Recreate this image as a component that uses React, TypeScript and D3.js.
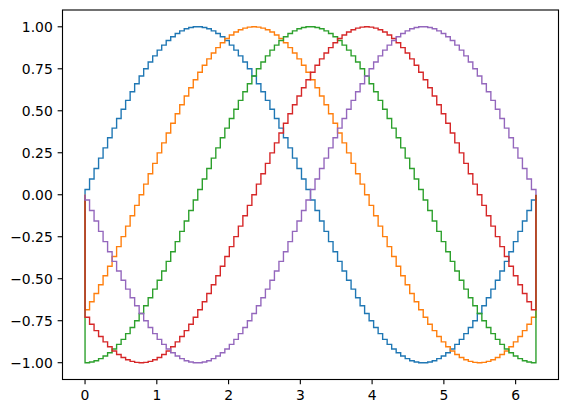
import * as d3 from "d3";
import React from "react";

// one value per step, 100 steps over [0, 2π]
const blue = [
  0.031, 0.094, 0.156, 0.218, 0.279, 0.339, 0.397, 0.454, 0.509, 0.562, 0.613, 0.661, 0.707, 0.75, 0.79, 0.827, 0.861, 0.891, 0.918, 0.941, 0.96, 0.976, 0.988, 0.996, 1,
  1, 0.996, 0.988, 0.976, 0.96, 0.941, 0.918, 0.891, 0.861, 0.827, 0.79, 0.75, 0.707, 0.661, 0.613, 0.562, 0.509, 0.454, 0.397, 0.339, 0.279, 0.218, 0.156, 0.094, 0.031,
  -0.031, -0.094, -0.156, -0.218, -0.279, -0.339, -0.397, -0.454, -0.509, -0.562, -0.613, -0.661, -0.707, -0.75, -0.79, -0.827, -0.861, -0.891, -0.918, -0.941, -0.96, -0.976, -0.988, -0.996, -1,
  -1, -0.996, -0.988, -0.976, -0.96, -0.941, -0.918, -0.891, -0.861, -0.827, -0.79, -0.75, -0.707, -0.661, -0.613, -0.562, -0.509, -0.454, -0.397, -0.339, -0.279, -0.218, -0.156, -0.094, -0.031,
];

const orange = [
  -0.685, -0.637, -0.588, -0.536, -0.482, -0.426, -0.368, -0.309, -0.249, -0.187, -0.125, -0.063,
  0,
  0.063, 0.125, 0.187, 0.249, 0.309, 0.368, 0.426, 0.482, 0.536, 0.588, 0.637, 0.685, 0.729, 0.771, 0.809, 0.844, 0.876, 0.905, 0.93, 0.951, 0.969, 0.982, 0.992, 0.998, 1,
  0.998, 0.992, 0.982, 0.969, 0.951, 0.93, 0.905, 0.876, 0.844, 0.809, 0.771, 0.729, 0.685, 0.637, 0.588, 0.536, 0.482, 0.426, 0.368, 0.309, 0.249, 0.187, 0.125, 0.063, 0,
  -0.063, -0.125, -0.187, -0.249, -0.309, -0.368, -0.426, -0.482, -0.536, -0.588, -0.637, -0.685, -0.729, -0.771, -0.809, -0.844, -0.876, -0.905, -0.93, -0.951, -0.969, -0.982, -0.992, -0.998, -1,
  -0.998, -0.992, -0.982, -0.969, -0.951, -0.93, -0.905, -0.876, -0.844, -0.809, -0.771, -0.729,
];

const green = [
  -1, -0.996, -0.988, -0.976, -0.96, -0.941, -0.918, -0.891, -0.861, -0.827, -0.79, -0.75, -0.707, -0.661, -0.613, -0.562, -0.509, -0.454, -0.397, -0.339, -0.279, -0.218, -0.156, -0.094, -0.031,
  0.031, 0.094, 0.156, 0.218, 0.279, 0.339, 0.397, 0.454, 0.509, 0.562, 0.613, 0.661, 0.707, 0.75, 0.79, 0.827, 0.861, 0.891, 0.918, 0.941, 0.96, 0.976, 0.988, 0.996, 1,
  1, 0.996, 0.988, 0.976, 0.96, 0.941, 0.918, 0.891, 0.861, 0.827, 0.79, 0.75, 0.707, 0.661, 0.613, 0.562, 0.509, 0.454, 0.397, 0.339, 0.279, 0.218, 0.156, 0.094, 0.031,
  -0.031, -0.094, -0.156, -0.218, -0.279, -0.339, -0.397, -0.454, -0.509, -0.562, -0.613, -0.661, -0.707, -0.75, -0.79, -0.827, -0.861, -0.891, -0.918, -0.941, -0.96, -0.976, -0.988, -0.996, -1,
];

const red = [
  -0.729, -0.771, -0.809, -0.844, -0.876, -0.905, -0.93, -0.951, -0.969, -0.982, -0.992, -0.998,
  -1,
  -0.998, -0.992, -0.982, -0.969, -0.951, -0.93, -0.905, -0.876, -0.844, -0.809, -0.771, -0.729, -0.685, -0.637, -0.588, -0.536, -0.482, -0.426, -0.368, -0.309, -0.249, -0.187, -0.125, -0.063, 0,
  0.063, 0.125, 0.187, 0.249, 0.309, 0.368, 0.426, 0.482, 0.536, 0.588, 0.637, 0.685, 0.729, 0.771, 0.809, 0.844, 0.876, 0.905, 0.93, 0.951, 0.969, 0.982, 0.992, 0.998, 1,
  0.998, 0.992, 0.982, 0.969, 0.951, 0.93, 0.905, 0.876, 0.844, 0.809, 0.771, 0.729, 0.685, 0.637, 0.588, 0.536, 0.482, 0.426, 0.368, 0.309, 0.249, 0.187, 0.125, 0.063, 0,
  -0.063, -0.125, -0.187, -0.249, -0.309, -0.368, -0.426, -0.482, -0.536, -0.588, -0.637, -0.685,
];

const purple = [
  -0.031, -0.094, -0.156, -0.218, -0.279, -0.339, -0.397, -0.454, -0.509, -0.562, -0.613, -0.661, -0.707, -0.75, -0.79, -0.827, -0.861, -0.891, -0.918, -0.941, -0.96, -0.976, -0.988, -0.996, -1,
  -1, -0.996, -0.988, -0.976, -0.96, -0.941, -0.918, -0.891, -0.861, -0.827, -0.79, -0.75, -0.707, -0.661, -0.613, -0.562, -0.509, -0.454, -0.397, -0.339, -0.279, -0.218, -0.156, -0.094, -0.031,
  0.031, 0.094, 0.156, 0.218, 0.279, 0.339, 0.397, 0.454, 0.509, 0.562, 0.613, 0.661, 0.707, 0.75, 0.79, 0.827, 0.861, 0.891, 0.918, 0.941, 0.96, 0.976, 0.988, 0.996, 1,
  1, 0.996, 0.988, 0.976, 0.96, 0.941, 0.918, 0.891, 0.861, 0.827, 0.79, 0.75, 0.707, 0.661, 0.613, 0.562, 0.509, 0.454, 0.397, 0.339, 0.279, 0.218, 0.156, 0.094, 0.031,
];

const seriesList = [blue, orange, green, red, purple];
const colors = ["#1f77b4", "#ff7f0e", "#2ca02c", "#d62728", "#9467bd"];

const xTicks = [0, 1, 2, 3, 4, 5, 6];
const yTicks = [-1, -0.75, -0.5, -0.25, 0, 0.25, 0.5, 0.75, 1];

const W = 568;
const H = 413;
const margin = { top: 10, right: 9.5, bottom: 33.5, left: 62.5 };
const font = "DejaVu Sans, sans-serif";

const App: React.FC = () => {
  const x0 = 0;
  const x1 = 2 * Math.PI;
  const pad = (x1 - x0) * 0.05;

  const xScale = d3
    .scaleLinear()
    .domain([x0 - pad, x1 + pad])
    .range([margin.left, W - margin.right]);
  const yScale = d3
    .scaleLinear()
    .domain([-1.1, 1.1])
    .range([H - margin.bottom, margin.top]);

  const line = d3
    .line<[number, number]>()
    .x((d) => xScale(d[0]))
    .y((d) => yScale(d[1]))
    .curve(d3.curveStepAfter);

  // stairs path: baseline -> values -> baseline
  const stairsPath = (vals: number[]) => {
    const n = vals.length;
    const edges = d3.range(n + 1).map((i) => x0 + ((x1 - x0) * i) / n);
    const pts: [number, number][] = [[edges[0], 0]];
    vals.forEach((v, i) => pts.push([edges[i], v]));
    pts.push([edges[n], vals[n - 1]]);
    pts.push([edges[n], 0]);
    return line(pts) ?? "";
  };

  const left = margin.left;
  const right = W - margin.right;
  const top = margin.top;
  const bottom = H - margin.bottom;
  const tickLen = 4.86;

  return (
    <svg
      width={W}
      height={H}
      style={{ position: "absolute", left: 0, top: 0, background: "#fff" }}
    >
      <defs>
        <clipPath id="plotArea">
          <rect x={left} y={top} width={right - left} height={bottom - top} />
        </clipPath>
      </defs>
      <g clipPath="url(#plotArea)">
        {seriesList.map((vals, k) => (
          <path
            key={k}
            d={stairsPath(vals)}
            fill="none"
            stroke={colors[k]}
            strokeWidth={1.39}
            strokeLinejoin="miter"
          />
        ))}
      </g>

      {/* x axis */}
      {xTicks.map((t) => (
        <g key={"x" + t}>
          <line
            x1={xScale(t)}
            x2={xScale(t)}
            y1={bottom}
            y2={bottom + tickLen}
            stroke="#000"
            strokeWidth={1.11}
          />
          <text
            x={xScale(t)}
            y={400}
            textAnchor="middle"
            fontFamily={font}
            fontSize={13.9}
            fill="#000"
          >
            {String(t)}
          </text>
        </g>
      ))}

      {/* y axis */}
      {yTicks.map((t) => (
        <g key={"y" + t}>
          <line
            x1={left - tickLen}
            x2={left}
            y1={yScale(t)}
            y2={yScale(t)}
            stroke="#000"
            strokeWidth={1.11}
          />
          <text
            x={left - tickLen - 4.86}
            y={yScale(t) + 5}
            textAnchor="end"
            fontFamily={font}
            fontSize={13.9}
            fill="#000"
          >
            {t.toFixed(2).replace("-", "\u2212")}
          </text>
        </g>
      ))}

      <rect
        x={left}
        y={top}
        width={right - left}
        height={bottom - top}
        fill="none"
        stroke="#000"
        strokeWidth={1.11}
      />
    </svg>
  );
};

export default App;
